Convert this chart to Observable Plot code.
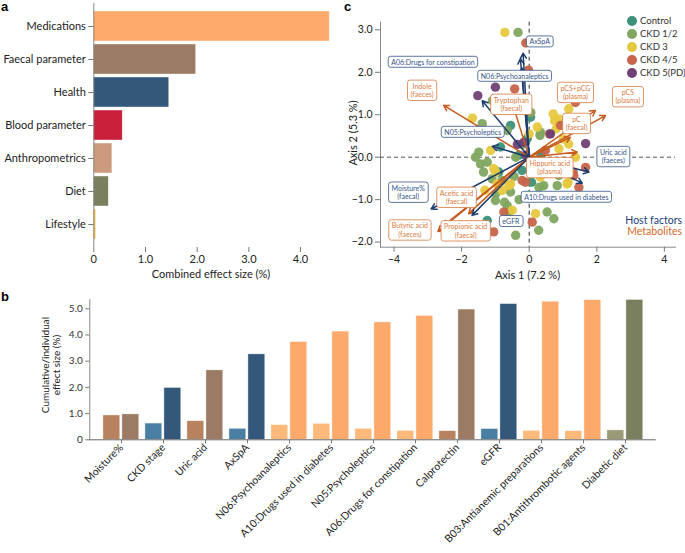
<!DOCTYPE html>
<html>
<head>
<meta charset="utf-8">
<script src="https://cdn.jsdelivr.net/npm/d3@7"></script>
<script src="https://cdn.jsdelivr.net/npm/@observablehq/plot@0.6"></script>
<style>
  body { margin: 0; background: #fff; }
  #root { position: relative; width: 685px; height: 553px; font-family: Lato, "Open Sans", sans-serif; color: #222; overflow: hidden; }
  .abs { position: absolute; }
  .letter { position: absolute; font-family: "Liberation Sans", Arial, sans-serif; font-weight: bold; font-size: 13px; color: #000; }
  .lbl { position: absolute; font-size: 11px; white-space: nowrap; color: #222; }
  .leg { position: absolute; font-size: 9.5px; line-height: 12px; white-space: nowrap; color: #333; }
  .leg span.dot { position: absolute; width: 10px; height: 10px; border-radius: 50%; }
</style>
</head>
<body>
<div id="root">
  <div id="pa" class="abs" style="left:0;top:0"></div>
  <div id="pc" class="abs" style="left:340px;top:0"></div>
  <div id="pb" class="abs" style="left:0;top:285px"></div>
  <div class="letter" style="left:1px;top:-1px">a</div>
  <div class="letter" style="left:1px;top:289px">b</div>
  <div class="letter" style="left:344px;top:-1px">c</div>
  <div class="lbl" style="left:93px;width:236px;text-align:center;top:267px">Combined effect size (%)</div>
  <div class="lbl" style="left:380px;width:295px;text-align:center;top:268px">Axis 1 (7.2 %)</div>
  <div class="lbl" style="left:352px;top:133px;transform:translate(-50%,-50%) rotate(-90deg)">Axis 2 (5.3 %)</div>
  <div class="lbl" style="left:51px;top:365px;font-size:10px;line-height:11px;text-align:center;transform:translate(-50%,-50%) rotate(-90deg)">Cumulative/individual<br>effect size (%)</div>
  <div id="legend"></div>
  <div class="lbl" style="right:3px;top:214px;font-size:10.5px;color:#23407a;">Host factors</div>
  <div class="lbl" style="right:3px;top:224.5px;font-size:10.5px;color:#d2692a;">Metabolites</div>
</div>
<script>
const fontFamily = 'Lato, "Open Sans", sans-serif';

// ---------- Panel a data ----------
const aCategories = ["Medications", "Faecal parameter", "Health", "Blood parameter", "Anthropometrics", "Diet", "Lifestyle"];
const aValues = [4.565, 1.98, 1.46, 0.56, 0.36, 0.29, 0.045];
const aColors = ["#fdaa6c", "#9b7b63", "#33587b", "#c8203b", "#cc9a7f", "#7a7f5d", "#f5b53d"];

// ---------- Panel b data ----------
const bFactors = ["Moisture%", "CKD stage", "Uric acid", "AxSpA", "N06:Psychoanaleptics", "A10:Drugs used in diabetes",
  "N05:Psycholeptics", "A06:Drugs for constipation", "Calprotectin", "eGFR", "B03:Antianemic preparations",
  "B01:Antithrombotic agents", "Diabetic diet"];
const bGroups = ["Faecal parameter", "Health", "Faecal parameter", "Health", "Medications", "Medications", "Medications",
  "Medications", "Faecal parameter", "Health", "Medications", "Medications", "Diet"];
const bIndividual = [0.93, 0.62, 0.71, 0.42, 0.56, 0.61, 0.42, 0.34, 0.33, 0.41, 0.34, 0.33, 0.36];
const bCumulative = [0.97, 1.98, 2.65, 3.26, 3.73, 4.13, 4.48, 4.73, 4.97, 5.18, 5.27, 5.33, 5.34];
const bGroupNames = ["Faecal parameter", "Health", "Medications", "Diet"];
const bIndivColors = ["#b9825f", "#4a7fa4", "#fdb979", "#9b9a77"];
const bCumColors = ["#9b7b63", "#33587b", "#fda96b", "#7a7f5d"];

// ---------- Panel c data ----------
const groupNames = ["Control", "CKD 1/2", "CKD 3", "CKD 4/5", "CKD 5(PD)"];
const groupColors = ["#3d9079", "#80a660", "#e6c83f", "#c7644b", "#6f4175"];

const controlX = [0.04, -0.55, -0.85, -0.21, -1.24, 0.07, -0.05, -0.3, 0.35, -0.9];
const controlY = [0.94, 0.75, 0.24, -0.31, -1.49, -0.59, 0.45, 0.05, 0.05, -0.35];
const ckd12X = [-0.33, -1.39, -0.65, 0.33, -1.49, -0.4, -1.24, -1.59, -1.44, -1.1, -0.81, 0.43, 0.83, 0.88, -0.55, -0.99, -1.0, -0.65, -0.73, 0.53, 0.73, 0.28, -0.4, 0.29, 0.32, -1.09, -0.2, 0.55, -0.45, -0.3, -1.35, -0.6, 0.05];
const ckd12Y = [2.94, 0.79, 0.63, 0.59, 0.12, 0.0, -0.12, 0.0, -0.16, -0.51, -0.55, -0.67, -0.67, -0.43, -0.82, -0.86, -1.02, -1.14, -1.06, -1.29, -1.45, -1.72, -1.84, -0.71, 0.51, 1.33, 0.3, -0.3, -0.45, -1.0, -0.35, -1.3, 1.05];
const ckd3X = [-0.72, -1.68, 0.24, 0.71, 0.88, 1.17, 1.02, 1.17, -1.14, 0.75, 0.8, 0.88, 1.37, 1.12, 0.33, -1.05, -0.55, -0.8, -1.31, 0.19, -0.6, -0.5, -0.99, -0.95, 0.0, 1.15];
const ckd3Y = [2.94, 0.92, 0.71, 1.02, 0.9, 1.14, 0.43, 0.31, 0.16, 0.86, 0.67, 0.2, 0.0, -0.63, -0.47, -0.27, -0.63, -0.78, -0.78, -1.33, -0.67, -1.25, -0.35, -0.63, 0.55, -0.6];
const ckd45X = [-0.1, -0.02, -0.43, 0.93, 1.37, 0.6, -0.21, 1.32, 1.67, 1.3, 1.47, -0.11, 0.09, -1.05, -0.75, 0.48, 1.05];
const ckd45Y = [2.69, 2.05, 1.61, 0.75, 1.29, 0.55, -0.55, -0.43, -0.24, -0.35, -0.71, -0.59, -1.53, -1.76, -1.29, 0.16, -0.1];
const pdX = [-1.52, -1.0, 0.63, 1.67, -0.16, -0.35, -0.1];
const pdY = [1.45, 1.65, 0.55, 0.32, 0.35, 0.3, 0.05];

const hostNames = ["AxSpA", "N06:Psychoanaleptics", "A06:Drugs for constipation", "N05:Psycholeptics", "Moisture%\n(faecal)", "eGFR", "Uric acid\n(faeces)", "A10:Drugs used in diabetes"];
const hostArrowX = [-0.18, -0.26, -1.39, -1.09, -2.9, -1.69, 1.77, 1.57, -0.22];
const hostArrowY = [2.45, 2.32, 1.33, 0.26, -1.22, -1.37, -0.35, -0.61, 2.1];
const hostLabelX = [0.31, -0.43, -2.85, -1.67, -3.58, -0.54, 2.49, 1.10];
const hostLabelY = [2.72, 1.91, 2.24, 0.59, -0.82, -1.51, 0.02, -0.94];

const metNames = ["Indole\n(faeces)", "Tryptophan\n(faecal)", "pCS+pCG\n(plasma)", "pCS\n(plasma)", "pC\n(faecal)", "Hippuric acid\n(plasma)", "Acetic acid\n(faecal)", "Butyric acid\n(faeces)", "Propionic acid\n(faecal)"];
const metArrowX = [-2.53, -0.45, 1.96, 2.26, 1.22, 1.42, -1.79, -2.7, -2.55];
const metArrowY = [1.22, 1.15, 1.1, 0.98, 0.47, 0.12, -1.33, -1.75, -1.62];
const metLabelX = [-3.17, -0.53, 1.37, 2.92, 1.40, 0.61, -2.15, -3.53, -1.88];
const metLabelY = [1.58, 1.25, 1.53, 1.43, 0.80, -0.24, -0.94, -1.71, -1.73];

const navy = "#1e3c6e", orange = "#c75a1c";
const navyText = "#34548a", orangeText = "#d77a40";

// ---------- Panel a ----------
const aData = aCategories.map((c, i) => ({cat: c, value: aValues[i]}));
const plotA = Plot.plot({
  width: 340, height: 282,
  marginLeft: 93.3, marginRight: 10.5, marginTop: 3, marginBottom: 35,
  style: {fontFamily, fontSize: "11px", color: "#222", background: "transparent"},
  x: {domain: [0, 4.57], label: null},
  y: {domain: aCategories, padding: 0.1, insetTop: 3.4, insetBottom: 4.3, label: null},
  color: {domain: aCategories, range: aColors},
  marks: [
    Plot.barX(aData, {x: "value", y: "cat", fill: "cat", stroke: "#fff", strokeWidth: 0.6, strokeOpacity: 0.7}),
    Plot.ruleX([0], {stroke: "#888", strokeWidth: 1}),
    Plot.axisY({tickSize: 5, tickPadding: 3, stroke: "#777", label: null, fontSize: 11}),
    Plot.axisX({ticks: [0, 1, 2, 3, 4], tickSize: 5, tickPadding: 3, stroke: "#777", label: null,
      tickFormat: d => d === 0 ? "0" : d.toFixed(1), fontSize: 11})
  ]
});
document.getElementById("pa").appendChild(plotA);

// ---------- Panel b ----------
const bData = bFactors.map((f, i) => ({
  factor: f, indiv: bIndividual[i], cum: bCumulative[i],
  ci: bIndivColors[bGroupNames.indexOf(bGroups[i])],
  cc: bCumColors[bGroupNames.indexOf(bGroups[i])]
}));
const plotB = Plot.plot({
  width: 685, height: 268,
  marginLeft: 89.3, marginRight: 29.3, marginTop: 14.1, marginBottom: 113.7,
  style: {fontFamily, fontSize: "10px", color: "#222", background: "transparent"},
  x: {domain: bFactors, padding: 0, insetLeft: 5.1, insetRight: 4.3, label: null},
  y: {domain: [0, 5.35], label: null},
  color: {type: "identity"},
  marks: [
    Plot.frame({anchor: "left", stroke: "#888"}),
    Plot.barY(bData, {x: "factor", y: "indiv", fill: "ci", insetLeft: 2.9, insetRight: 22.2, stroke: "#fff", strokeWidth: 0.6, strokeOpacity: 0.7}),
    Plot.barY(bData, {x: "factor", y: "cum", fill: "cc", insetLeft: 21.9, insetRight: 3.2, stroke: "#fff", strokeWidth: 0.6, strokeOpacity: 0.7}),
    Plot.ruleY([0], {stroke: "#666", strokeWidth: 1}),
    Plot.axisY({ticks: [0, 1, 2, 3, 4, 5], tickSize: 4, tickPadding: 3, stroke: "#777", label: null,
      tickFormat: d => d === 0 ? "0" : d.toFixed(1), fontSize: 10, fill: "#333"}),
    Plot.axisX({tickSize: 4, tickPadding: 2, tickRotate: -45, stroke: "#777", label: null, fontSize: 10.5, fill: "#222"})
  ]
});
document.getElementById("pb").appendChild(plotB);

// ---------- Panel c ----------
const points = [];
[[controlX, controlY], [ckd12X, ckd12Y], [ckd3X, ckd3Y], [ckd45X, ckd45Y], [pdX, pdY]].forEach(([xs, ys], g) => {
  xs.forEach((x, i) => points.push({x, y: ys[i], group: groupNames[g]}));
});
const hostArrows = hostArrowX.map((x, i) => ({x, y: hostArrowY[i]}));
const metArrows = metArrowX.map((x, i) => ({x, y: metArrowY[i]}));
const hostLabels = hostLabelX.map((x, i) => ({x, y: hostLabelY[i], text: hostNames[i]}));
const metLabels = metLabelX.map((x, i) => ({x, y: metLabelY[i], text: metNames[i]}));

const plotC = Plot.plot({
  width: 345, height: 282,
  marginLeft: 40, marginRight: 10, marginTop: 21.7, marginBottom: 35.3,
  style: {fontFamily, fontSize: "10.5px", color: "#222", background: "transparent"},
  x: {domain: [-4.4, 4.33], label: null},
  y: {domain: [-2.12, 3.18], label: null},
  color: {domain: groupNames, range: groupColors},
  marks: [
    Plot.frame({anchor: "left", stroke: "#888"}),
    Plot.frame({anchor: "bottom", stroke: "#888"}),
    Plot.axisX({ticks: [-4, -2, 0, 2, 4], tickSize: 5, tickPadding: 3, stroke: "#777", label: null, fontSize: 10.5}),
    Plot.axisY({ticks: [-2, -1, 0, 1, 2, 3], tickSize: 5, tickPadding: 3, stroke: "#777", label: null, fontSize: 10.5}),
    Plot.ruleX([0], {stroke: "#333", strokeDasharray: "4,3", strokeWidth: 1}),
    Plot.ruleY([0], {stroke: "#555", strokeDasharray: "4,3", strokeWidth: 1}),
    Plot.dot(points, {x: "x", y: "y", fill: "group", r: 4.7, fillOpacity: 0.95}),
    Plot.arrow(metArrows, {x1: () => 0, y1: () => 0, x2: "x", y2: "y", stroke: orange, strokeWidth: 1.5, headLength: 6}),
    Plot.arrow(hostArrows, {x1: () => 0, y1: () => 0, x2: "x", y2: "y", stroke: navy, strokeWidth: 1.5, headLength: 6}),
    Plot.text(hostLabels, {x: "x", y: "y", text: "text", fill: navyText, fontSize: 7, lineHeight: 1.2}),
    Plot.text(metLabels, {x: "x", y: "y", text: "text", fill: orangeText, fontSize: 7, lineHeight: 1.2})
  ]
});
document.getElementById("pc").appendChild(plotC);

function boxLabels(group, color) {
  group.querySelectorAll("text").forEach(t => {
    const b = t.getBBox();
    const r = document.createElementNS("http://www.w3.org/2000/svg", "rect");
    r.setAttribute("x", b.x - 3);
    r.setAttribute("y", b.y - 1.5);
    r.setAttribute("width", b.width + 6);
    r.setAttribute("height", b.height + 3);
    r.setAttribute("rx", 2.5);
    r.setAttribute("fill", "#fff");
    r.setAttribute("stroke", color);
    r.setAttribute("stroke-width", 0.8);
    if (t.getAttribute("transform")) r.setAttribute("transform", t.getAttribute("transform"));
    t.parentNode.insertBefore(r, t);
  });
}
const textGroups = plotC.querySelectorAll('g[aria-label="text"]');
if (textGroups.length >= 2) {
  boxLabels(textGroups[0], navyText);
  boxLabels(textGroups[1], orangeText);
}

// legend for panel c
const legend = document.getElementById("legend");
groupNames.forEach((g, i) => {
  const d = document.createElement("div");
  d.className = "leg";
  d.style.left = "640px";
  d.style.top = (14.5 + i * 13) + "px";
  d.textContent = g;
  const dot = document.createElement("span");
  dot.className = "dot";
  dot.style.background = groupColors[i];
  dot.style.left = "-13px";
  dot.style.top = "1px";
  d.appendChild(dot);
  legend.appendChild(d);
});
</script>
</body>
</html>
